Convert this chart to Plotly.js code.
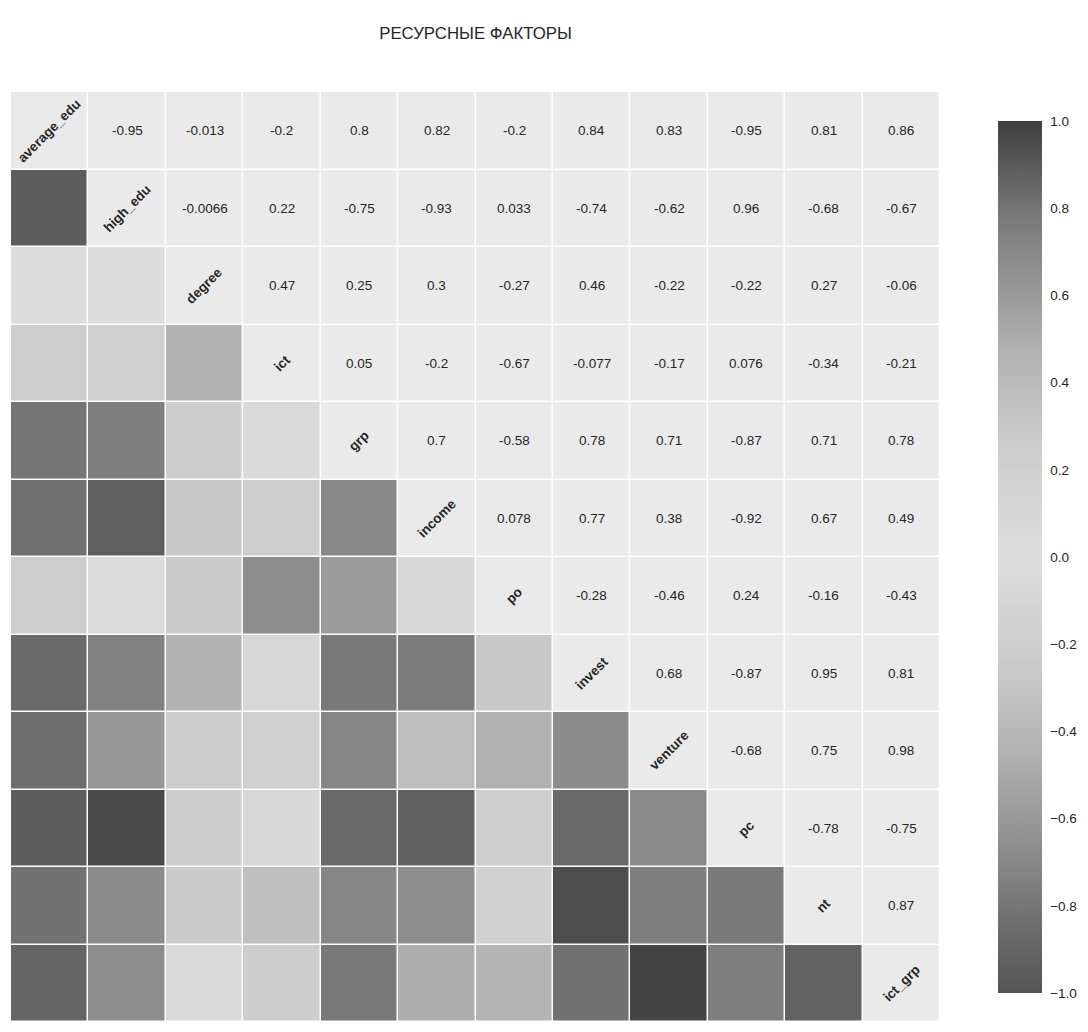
<!DOCTYPE html>
<html>
<head>
<meta charset="utf-8">
<script src="https://cdn.plot.ly/plotly-3.0.1.min.js"></script>
<style>html,body{margin:0;padding:0;background:#fff;}</style>
</head>
<body>
<div id="chart" style="width:1088px;height:1032px;"></div>
<script>
// Variable names (rows/columns of the correlation matrix)
var names = ["average_edu","high_edu","degree","ict","grp","income","po","invest","venture","pc","nt","ict_grp"];

// Upper-triangle correlations, row by row (values to the right of the diagonal)
var row_average_edu = [-0.95, -0.013, -0.2, 0.8, 0.82, -0.2, 0.84, 0.83, -0.95, 0.81, 0.86];
var row_high_edu    = [-0.0066, 0.22, -0.75, -0.93, 0.033, -0.74, -0.62, 0.96, -0.68, -0.67];
var row_degree      = [0.47, 0.25, 0.3, -0.27, 0.46, -0.22, -0.22, 0.27, -0.06];
var row_ict         = [0.05, -0.2, -0.67, -0.077, -0.17, 0.076, -0.34, -0.21];
var row_grp         = [0.7, -0.58, 0.78, 0.71, -0.87, 0.71, 0.78];
var row_income      = [0.078, 0.77, 0.38, -0.92, 0.67, 0.49];
var row_po          = [-0.28, -0.46, 0.24, -0.16, -0.43];
var row_invest      = [0.68, -0.87, 0.95, 0.81];
var row_venture     = [-0.68, 0.75, 0.98];
var row_pc          = [-0.78, -0.75];
var row_nt          = [0.87];

var colorbarTicks = [1, 0.8, 0.6, 0.4, 0.2, 0, -0.2, -0.4, -0.6, -0.8, -1];

var upperRows = [row_average_edu, row_high_edu, row_degree, row_ict, row_grp, row_income,
                 row_po, row_invest, row_venture, row_pc, row_nt, []];

var n = names.length;
var corr = [];
for (var i = 0; i < n; i++) { corr.push(new Array(n).fill(1)); }
for (var i = 0; i < n; i++) {
  for (var k = 0; k < upperRows[i].length; k++) {
    var j = i + 1 + k;
    corr[i][j] = upperRows[i][k];
    corr[j][i] = upperRows[i][k];
  }
}

var idx = names.map(function(_, i){ return i; });
var zLower = [], zUpper = [];
for (var i = 0; i < n; i++) {
  var lo = [], up = [];
  for (var j = 0; j < n; j++) {
    if (j < i) { lo.push(corr[i][j]); up.push(null); }
    else { lo.push(null); up.push(0); }
  }
  zLower.push(lo); zUpper.push(up);
}

function g(v){ return 'rgb(' + v + ',' + v + ',' + v + ')'; }
var grayScale = [
  [0.0, g(85)], [0.05, g(100)], [0.125, g(127)], [0.17, g(143)], [0.27, g(176)],
  [0.36, g(200)], [0.5, g(221)], [0.625, g(205)], [0.735, g(178)], [0.8, g(154)],
  [0.85, g(136)], [0.9, g(117)], [0.95, g(90)], [1.0, g(63)]
];

var FONT = 'Liberation Sans, Arial, sans-serif';

var bg = {
  type: 'heatmap', x: idx, y: idx, z: zUpper,
  colorscale: [[0, '#eaeaea'], [1, '#eaeaea']], zmin: 0, zmax: 1,
  showscale: false, xgap: 1.5, ygap: 1.5, hoverinfo: 'skip'
};
var lower = {
  type: 'heatmap', x: idx, y: idx, z: zLower,
  colorscale: grayScale, zmin: -1, zmax: 1,
  xgap: 1.5, ygap: 1.5, hoverongaps: false,
  colorbar: {
    x: 1.0624, xanchor: 'left', xpad: 0, ypad: 0,
    y: 0.5, yanchor: 'middle', len: 0.9376, lenmode: 'fraction',
    thickness: 44, thicknessmode: 'pixels', outlinewidth: 0,
    tickmode: 'array', tickvals: colorbarTicks,
    tickformat: '.1f', ticks: 'outside', ticklen: 6, tickcolor: 'rgba(0,0,0,0)',
    tickfont: {size: 13.5, color: '#262626', family: FONT}
  }
};

var annotations = [];
for (var i = 0; i < n; i++) {
  for (var j = i; j < n; j++) {
    if (i === j) {
      annotations.push({
        x: j, y: i, xref: 'x', yref: 'y', text: '<b>' + names[i] + '</b>', showarrow: false,
        textangle: -45, font: {size: 13.5, color: '#262626', family: FONT}
      });
    } else {
      annotations.push({
        x: j, y: i, xref: 'x', yref: 'y', text: String(corr[i][j]), showarrow: false,
        font: {size: 13.5, color: '#262626', family: FONT}
      });
    }
  }
}

var layout = {
  width: 1088, height: 1032,
  margin: {l: 11, r: 148, t: 92, b: 10},
  paper_bgcolor: '#ffffff', plot_bgcolor: '#ffffff',
  title: {text: 'РЕСУРСНЫЕ ФАКТОРЫ', x: 0.5, xref: 'paper', xanchor: 'center',
          y: 1 - 33/1032, yref: 'container', yanchor: 'middle',
          font: {size: 16.8, color: '#262626', family: FONT}},
  xaxis: {range: [-0.5, n - 0.5], visible: false, fixedrange: true},
  yaxis: {range: [n - 0.5, -0.5], visible: false, fixedrange: true},
  annotations: annotations,
  showlegend: false
};

Plotly.newPlot('chart', [bg, lower], layout, {displayModeBar: false, staticPlot: true});
</script>
</body>
</html>
